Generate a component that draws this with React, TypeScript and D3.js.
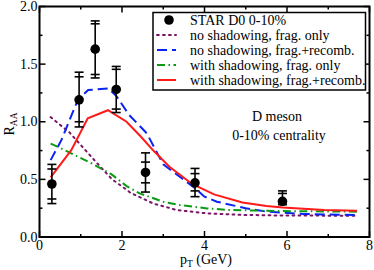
import React, { useEffect, useRef } from 'react';
import * as d3 from 'd3';

// STAR D0 0-10% data: pT, RAA, stat (inner) and sys (outer) bounds
const starPt = [0.3, 0.96, 1.35, 1.86, 2.57, 3.77, 5.89];
const starRaa = [0.46, 1.19, 1.63, 1.28, 0.56, 0.47, 0.31];
const starStatLo = [0.33, 1.0, 1.41, 1.11, 0.47, 0.4, 0.285];
const starStatHi = [0.59, 1.39, 1.85, 1.455, 0.65, 0.55, 0.378];
const starSysLo = [0.29, 0.955, 1.38, 1.08, 0.39, 0.35, 0.28];
const starSysHi = [0.63, 1.43, 1.875, 1.48, 0.73, 0.595, 0.4];

const noShadFragPt = [0.27, 0.73, 0.97, 1.38, 1.76, 2.1, 2.2, 2.76, 3.33, 4.06, 4.9, 5.9, 7.7];
const noShadFragRaa = [1.04, 0.906, 0.81, 0.647, 0.5, 0.413, 0.385, 0.29, 0.234, 0.205, 0.192, 0.186, 0.185];

const noShadRecPt = [0.27, 0.53, 0.93, 1.18, 1.67, 1.87, 2.17, 2.6, 3.0, 3.73, 4.0, 4.3, 5.0, 5.5, 6.4, 7.7];
const noShadRecRaa = [0.667, 0.84, 1.19, 1.275, 1.29, 1.22, 1.06, 0.9, 0.63, 0.435, 0.35, 0.306, 0.25, 0.22, 0.2, 0.19];

const shadFragPt = [0.27, 0.46, 1.26, 1.74, 2.12, 2.43, 3.0, 3.4, 4.06, 4.62, 5.9, 7.7];
const shadFragRaa = [0.81, 0.78, 0.64, 0.545, 0.44, 0.378, 0.306, 0.277, 0.248, 0.234, 0.225, 0.22];

const shadRecPt = [0.27, 0.77, 1.17, 1.66, 2.11, 2.46, 2.76, 3.15, 3.7, 4.23, 4.92, 5.5, 5.9, 6.9, 7.7];
const shadRecRaa = [0.517, 0.753, 1.03, 1.1, 1.0, 0.87, 0.75, 0.61, 0.46, 0.37, 0.3, 0.27, 0.255, 0.235, 0.228];

const xTicks = [0, 2, 4, 6, 8];
const yTicks = [0.0, 0.5, 1.0, 1.5, 2.0];

const legendLabels = [
  'STAR D0 0-10%',
  'no shadowing, frag. only',
  'no shadowing, frag.+recomb.',
  'with shadowing, frag. only',
  'with shadowing, frag.+recomb.',
];

const FONT = '"Liberation Serif", "DejaVu Serif", serif';

export default function App() {
  const svgRef = useRef<SVGSVGElement>(null);

  useEffect(() => {
    if (!svgRef.current) return;
    const width = 374;
    const height = 270;
    const margin = { top: 6.5, right: 4.5, bottom: 33, left: 39.5 };

    d3.select(svgRef.current).selectAll('*').remove();
    const svg = d3.select(svgRef.current).attr('width', width).attr('height', height);

    const x = d3.scaleLinear().domain([0, 8]).range([margin.left, width - margin.right]);
    const y = d3.scaleLinear().domain([0, 2]).range([height - margin.bottom, margin.top]);

    const series = [
      { pt: noShadFragPt, raa: noShadFragRaa, color: '#7a1464', dash: '1.8,4.2', cap: 'round' },
      { pt: noShadRecPt, raa: noShadRecRaa, color: '#0a23f5', dash: '10,5', cap: 'butt' },
      { pt: shadFragPt, raa: shadFragRaa, color: '#0a9a14', dash: '8,3.5,1.5,3.5', cap: 'butt' },
      { pt: shadRecPt, raa: shadRecRaa, color: '#ff1a1a', dash: null, cap: 'butt' },
    ];

    series.forEach(s => {
      const gen = d3.line<number>()
        .x((_, i) => x(s.pt[i]))
        .y(d => y(d));
      svg.append('path')
        .attr('d', gen(s.raa))
        .attr('fill', 'none')
        .attr('stroke', s.color)
        .attr('stroke-width', 2)
        .attr('stroke-linecap', s.cap)
        .attr('stroke-dasharray', s.dash);
    });

    // error bars
    const capW = 4.5;
    const eb = svg.append('g').attr('stroke', '#000').attr('stroke-width', 1.6);
    starPt.forEach((p, i) => {
      const cx = x(p);
      eb.append('line').attr('x1', cx).attr('x2', cx).attr('y1', y(starSysLo[i])).attr('y2', y(starSysHi[i]));
      [starSysLo[i], starSysHi[i], starStatLo[i], starStatHi[i]].forEach(v => {
        eb.append('line').attr('x1', cx - capW).attr('x2', cx + capW).attr('y1', y(v)).attr('y2', y(v));
      });
    });
    svg.append('g').selectAll('circle')
      .data(starRaa)
      .join('circle')
      .attr('cx', (_, i) => x(starPt[i]))
      .attr('cy', d => y(d))
      .attr('r', 4.8)
      .attr('fill', '#000');

    // frame and ticks
    const x0 = x(0), x1 = x(8), y0 = y(0), y1 = y(2);
    const ticks = svg.append('g').attr('stroke', '#000').attr('stroke-width', 1.5);
    d3.range(0, 8.01, 1).forEach(v => {
      const len = v % 2 === 0 ? 6 : 3;
      ticks.append('line').attr('x1', x(v)).attr('x2', x(v)).attr('y1', y0).attr('y2', y0 - len);
      ticks.append('line').attr('x1', x(v)).attr('x2', x(v)).attr('y1', y1).attr('y2', y1 + len);
    });
    d3.range(0, 2.01, 0.25).forEach(v => {
      const len = Math.abs(v * 2 - Math.round(v * 2)) < 1e-6 ? 6 : 3;
      ticks.append('line').attr('x1', x0).attr('x2', x0 + len).attr('y1', y(v)).attr('y2', y(v));
      ticks.append('line').attr('x1', x1).attr('x2', x1 - len).attr('y1', y(v)).attr('y2', y(v));
    });
    svg.append('rect')
      .attr('x', x0).attr('y', y1)
      .attr('width', x1 - x0).attr('height', y0 - y1)
      .attr('fill', 'none').attr('stroke', '#000').attr('stroke-width', 2);

    svg.append('g').selectAll('text')
      .data(xTicks)
      .join('text')
      .attr('x', d => x(d))
      .attr('y', 250)
      .attr('text-anchor', 'middle')
      .attr('font-family', FONT)
      .attr('font-size', 14)
      .text(d => String(d));

    svg.append('g').selectAll('text')
      .data(yTicks)
      .join('text')
      .attr('x', x0 - 2)
      .attr('y', d => y(d) + 4.5)
      .attr('text-anchor', 'end')
      .attr('font-family', FONT)
      .attr('font-size', 14)
      .text(d => d.toFixed(1));

    // axis titles
    const xt = svg.append('text')
      .attr('x', 206).attr('y', 264)
      .attr('text-anchor', 'middle')
      .attr('font-family', FONT).attr('font-size', 14);
    xt.append('tspan').text('p');
    xt.append('tspan').attr('font-size', 9.5).attr('dy', 3).text('T');
    xt.append('tspan').attr('dy', -3).text(' (GeV)');

    const yt = svg.append('text')
      .attr('transform', `translate(14,124) rotate(-90)`)
      .attr('text-anchor', 'middle')
      .attr('font-family', FONT).attr('font-size', 14);
    yt.append('tspan').text('R');
    yt.append('tspan').attr('font-size', 9.5).attr('dy', 3).text('AA');

    // annotations
    svg.append('text')
      .attr('x', 277).attr('y', 120.5)
      .attr('text-anchor', 'middle')
      .attr('font-family', FONT).attr('font-size', 14)
      .text('D meson');
    svg.append('text')
      .attr('x', 279).attr('y', 139.5)
      .attr('text-anchor', 'middle')
      .attr('font-family', FONT).attr('font-size', 14)
      .text('0-10% centrality');

    // legend
    const lg = svg.append('g');
    lg.append('rect')
      .attr('x', 153).attr('y', 12.5)
      .attr('width', 212.5).attr('height', 77.5)
      .attr('fill', '#fff').attr('stroke', '#000').attr('stroke-width', 1.5);
    const rowY = (i: number) => 20 + i * 15;
    lg.append('circle').attr('cx', 169).attr('cy', rowY(0)).attr('r', 4.8).attr('fill', '#000');
    series.forEach((s, i) => {
      lg.append('line')
        .attr('x1', 157).attr('x2', 176)
        .attr('y1', rowY(i + 1)).attr('y2', rowY(i + 1))
        .attr('stroke', s.color).attr('stroke-width', 2)
        .attr('stroke-linecap', s.cap)
        .attr('stroke-dasharray', s.dash);
    });
    lg.selectAll('text.lbl')
      .data(legendLabels)
      .join('text')
      .attr('class', 'lbl')
      .attr('x', 190)
      .attr('y', (_, i) => rowY(i) + 5)
      .attr('font-family', FONT)
      .attr('font-size', 14)
      .text(d => d);
  }, []);

  return (
    <div style={{ position: 'absolute', left: 0, top: 0, background: '#fff' }}>
      <svg ref={svgRef} style={{ display: 'block' }} />
    </div>
  );
}
